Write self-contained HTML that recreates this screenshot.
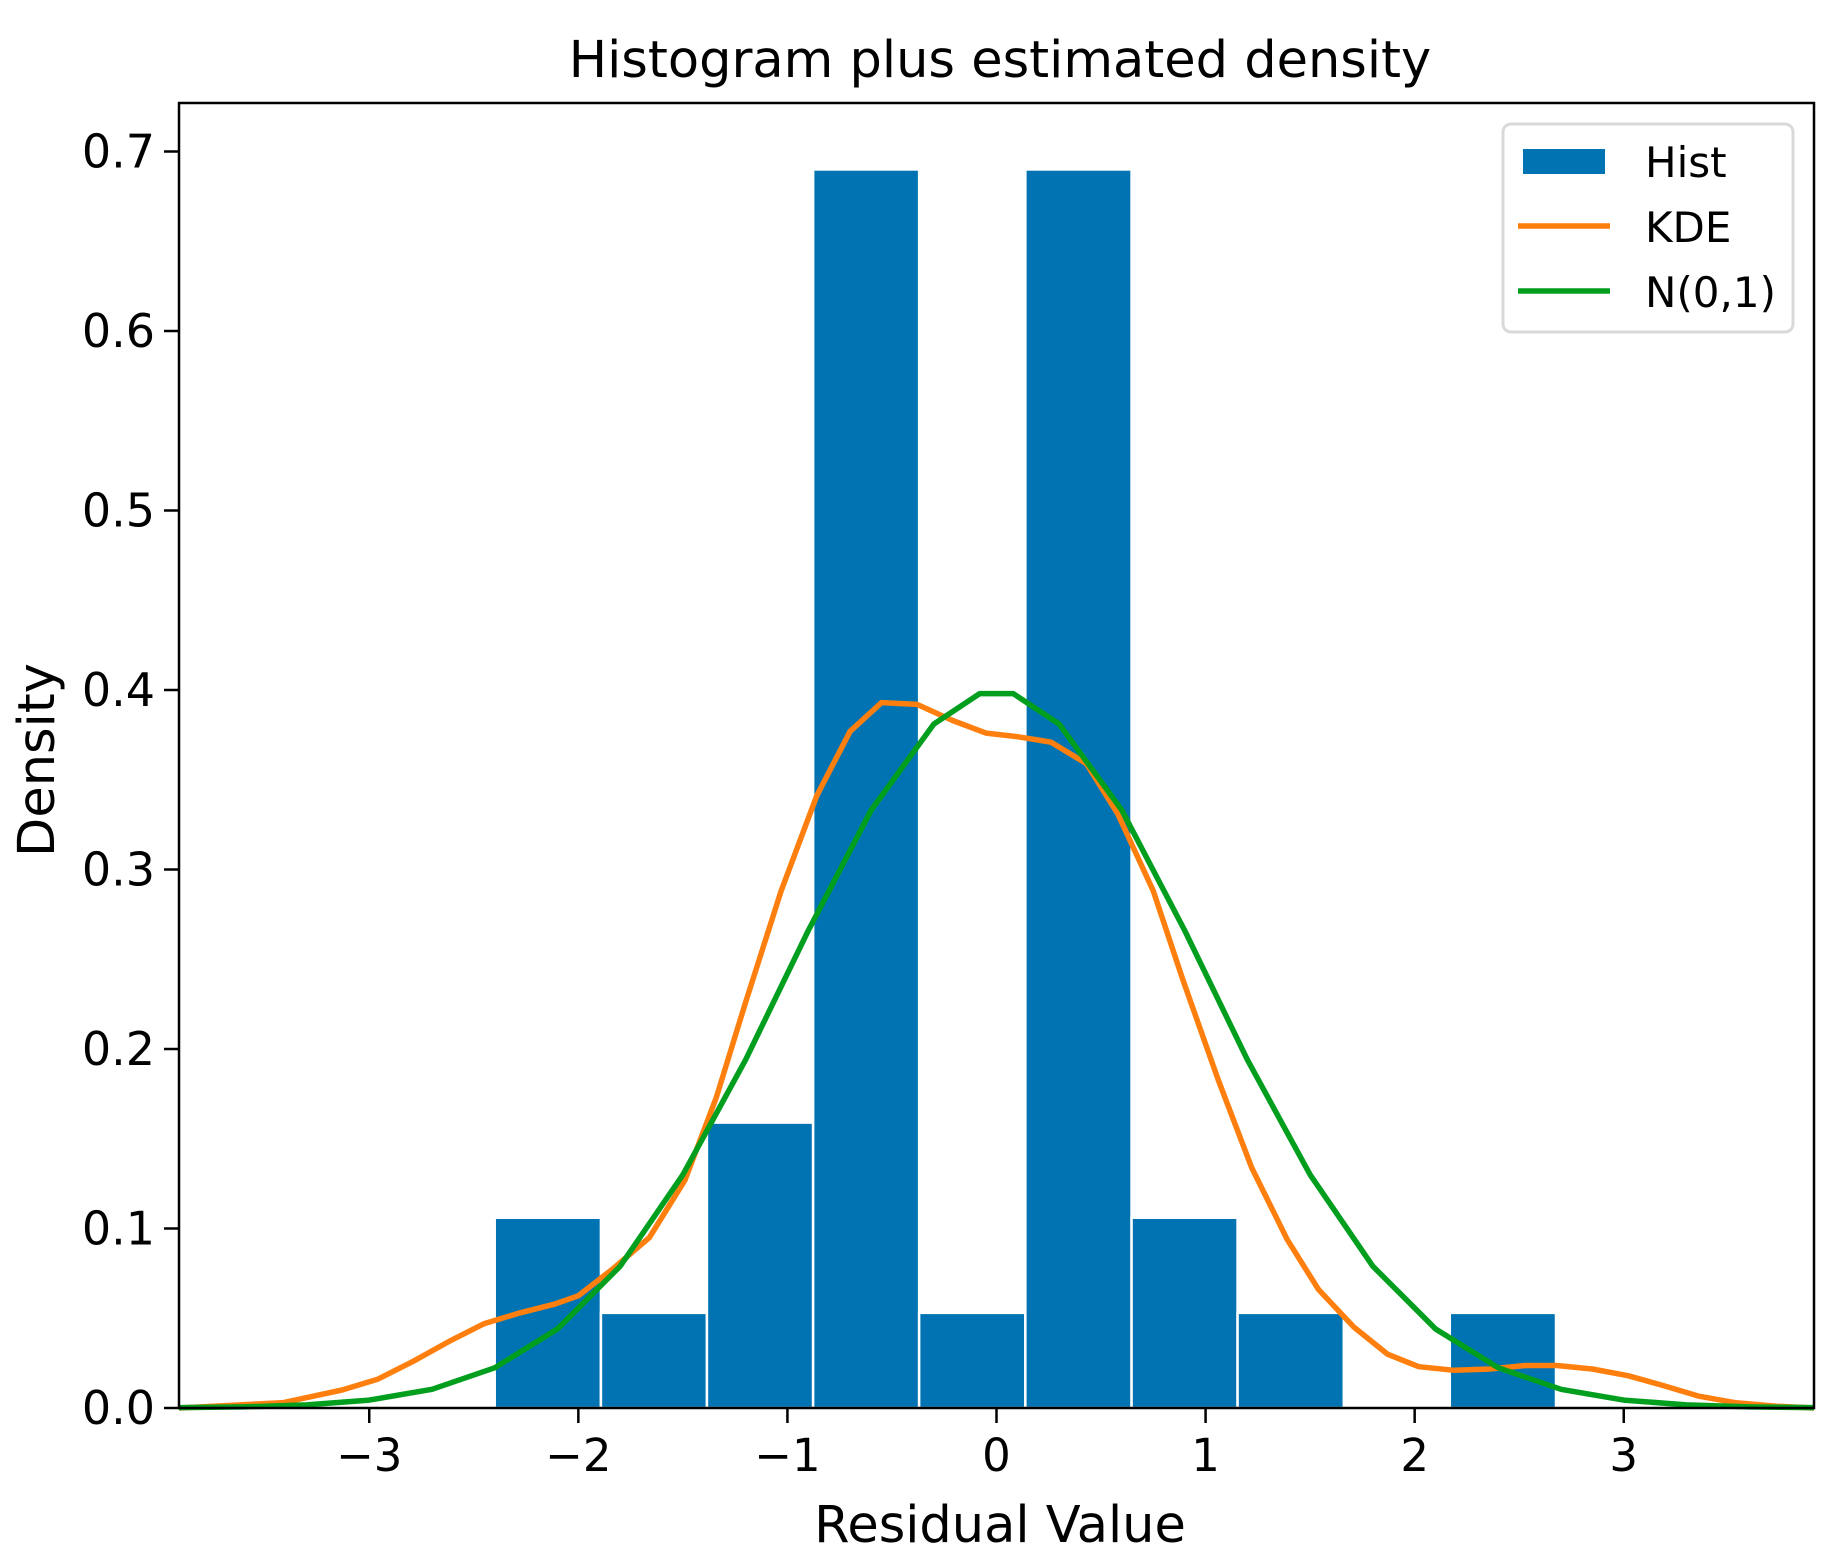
<!DOCTYPE html>
<html><head><meta charset="utf-8"><style>
html,body{margin:0;padding:0;background:#fff}
svg{display:block;font-family:"DejaVu Sans","Liberation Sans",sans-serif}
</style></head><body>
<svg id="chart" width="1847" height="1557" viewBox="0 0 1847 1557">
<rect width="1847" height="1557" fill="#fff"/>
<text x="1000" y="77" font-size="51" text-anchor="middle">Histogram plus estimated density</text>
<g id="bars"></g>
<g id="lines"></g>
<g id="axes"></g>
<text x="1000" y="1542" font-size="51" text-anchor="middle">Residual Value</text>
<text transform="translate(54,760) rotate(-90)" font-size="51" text-anchor="middle">Density</text>
<g>
<rect x="1503" y="124" width="290" height="208" rx="8" fill="#fff" stroke="#d9d9d9" stroke-width="3"/>
<rect x="1523" y="149" width="82" height="25" fill="#0173b2"/>
<line x1="1518" y1="226" x2="1610" y2="226" stroke="#ff7f0e" stroke-width="5.5"/>
<line x1="1518" y1="291" x2="1610" y2="291" stroke="#029e1e" stroke-width="5.5"/>
<text x="1645" y="177" font-size="42">Hist</text>
<text x="1645" y="242" font-size="42">KDE</text>
<text x="1645" y="307" font-size="42">N(0,1)</text>
</g>
</svg>
<script>
const binEdges=[-2.400,-1.892,-1.385,-0.877,-0.370,0.138,0.646,1.153,1.661,2.168,2.676];
const binHeights=[0.106,0.053,0.159,0.690,0.053,0.690,0.106,0.053,0,0.053];
const kdeX=[-3.91,-3.41,-3.13,-2.96,-2.79,-2.62,-2.45,-2.28,-2.11,-2.00,-1.83,-1.66,-1.49,-1.34,-1.20,-1.03,-0.86,-0.70,-0.55,-0.38,-0.21,-0.05,0.10,0.26,0.43,0.58,0.75,0.89,1.06,1.22,1.39,1.54,1.71,1.87,2.02,2.19,2.36,2.53,2.68,2.85,3.02,3.19,3.36,3.53,3.73,3.91];
const kdeY=[0,0.003,0.010,0.016,0.026,0.037,0.047,0.053,0.058,0.0625,0.078,0.095,0.127,0.173,0.226,0.288,0.341,0.377,0.393,0.392,0.383,0.376,0.374,0.371,0.359,0.331,0.288,0.239,0.183,0.134,0.094,0.066,0.045,0.030,0.023,0.021,0.0217,0.0237,0.0237,0.0217,0.018,0.0125,0.0066,0.003,0.001,0];
const normX=[-3.91,-3.6,-3.3,-3.0,-2.7,-2.4,-2.1,-1.8,-1.5,-1.2,-0.9,-0.6,-0.3,-0.08,0.08,0.3,0.6,0.9,1.2,1.5,1.8,2.1,2.4,2.7,3.0,3.3,3.6,3.91];
const normY=[0.0002,0.0006,0.0017,0.0044,0.0104,0.0224,0.044,0.079,0.130,0.194,0.266,0.333,0.381,0.398,0.398,0.381,0.333,0.266,0.194,0.130,0.079,0.044,0.0224,0.0104,0.0044,0.0017,0.0006,0.0002];
const xTicks=[-3,-2,-1,0,1,2,3];
const xTickLabels=["−3","−2","−1","0","1","2","3"];
const yTicks=[0,0.1,0.2,0.3,0.4,0.5,0.6,0.7];
const yTickLabels=["0.0","0.1","0.2","0.3","0.4","0.5","0.6","0.7"];

const L=179,R=1814,T=103,B=1408,XMIN=-3.91,XMAX=3.91;
const sx=v=>L+(v-XMIN)/(XMAX-XMIN)*(R-L);
const sy=v=>B-v*1795;
const NS="http://www.w3.org/2000/svg";
function mk(tag,attrs,parent){const e=document.createElementNS(NS,tag);for(const k in attrs)e.setAttribute(k,attrs[k]);parent.appendChild(e);return e;}
const gb=document.getElementById('bars');
binHeights.forEach((h,i)=>{
  if(h<=0)return;
  const x0=sx(binEdges[i]),x1=sx(binEdges[i+1]);
  const r=mk('rect',{x:x0,y:sy(h),width:x1-x0,height:B-sy(h),fill:'#0173b2',stroke:'#fff','stroke-width':2.5},gb);
  
  
});
const gl=document.getElementById('lines');
function line(xs,ys,color,name){
  const d=xs.map((x,i)=>(i?'L':'M')+sx(x).toFixed(1)+','+sy(ys[i]).toFixed(1)).join('');
  const p=mk('path',{d:d,fill:'none',stroke:color,'stroke-width':5.5,'stroke-linejoin':'round'},gl);
  
  
}
line(kdeX,kdeY,'#ff7f0e','kde-line');
line(normX,normY,'#029e1e','normal-line');
const ga=document.getElementById('axes');
const fr=mk('rect',{x:L,y:T,width:R-L,height:B-T,fill:'none',stroke:'#000','stroke-width':2.5},ga);


xTicks.forEach((v,i)=>{
  const x=sx(v);
  const t=mk('line',{x1:x,y1:B,x2:x,y2:B+15,stroke:'#000','stroke-width':2.5},ga);
  
  
  const tx=mk('text',{x:x,y:1471,'font-size':45,'text-anchor':'middle'},ga);
  tx.textContent=xTickLabels[i];
  
  
});
yTicks.forEach((v,i)=>{
  const y=sy(v);
  const t=mk('line',{x1:L-15,y1:y,x2:L,y2:y,stroke:'#000','stroke-width':2.5},ga);
  
  
  const tx=mk('text',{x:155,y:y+16,'font-size':46,'text-anchor':'end'},ga);
  tx.textContent=yTickLabels[i];
  
  
});
</script>
</body></html>
